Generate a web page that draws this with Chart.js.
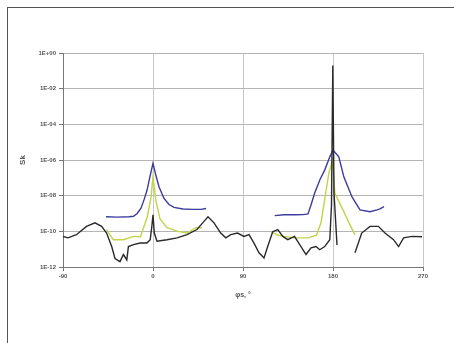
<!DOCTYPE html>
<html>
<head>
<meta charset="utf-8">
<script src="https://cdn.jsdelivr.net/npm/chart.js@4"></script>
<style>
  html, body { margin: 0; padding: 0; background: #fff; }
  #wrap { position: relative; width: 454px; height: 343px; overflow: hidden; }
  #frame { position: absolute; left: 7px; top: 7px; width: 460px; height: 360px; border-left: 1px solid #555; border-top: 1px solid #555; }
  canvas { position: absolute; left: 0; top: 0; }
</style>
</head>
<body>
<div id="wrap">
  <div id="frame"></div>
  <canvas id="chart" width="454" height="343"></canvas>
</div>
<script>
// angle ticks and decade ticks
const xTicks = [-90, 0, 90, 180, 270];
const yTicks = [1, 1e-2, 1e-4, 1e-6, 1e-8, 1e-10, 1e-12];
const yTickLabels = ['1E+00', '1E-02', '1E-04', '1E-06', '1E-08', '1E-10', '1E-12'];

// black series (null = break in the line)
const blackAngle = [-90, -85, -76.6, -66.5, -58, -51.4, -46.4, -41.3, -38, -33, -29.6, -26.2, -24.6, -19.5, -12.8, -6.1, -2.8, -1.1, 0, 1.3, 4, 14, 24, 34, 44, 51, 55, 61, 67.7, 72.8, 77.8, 84.5, 91, 96, 101, 106, 111, 114.7, 119.7, 124.8, 129.8, 134.8, 141.5, 148, 153, 158, 163, 166.7, 171.7, 176.8, 178.5, 179.8, 181, 184, 193, 202, 208.7, 217, 225.4, 232, 240.5, 245.6, 250.6, 259, 269];
const blackValue = [5.2e-11, 4.3e-11, 6.5e-11, 1.9e-10, 3e-10, 1.9e-10, 8e-11, 1.4e-11, 3e-12, 2e-12, 5e-12, 2.5e-12, 1.4e-11, 1.8e-11, 2.2e-11, 2.2e-11, 3.4e-11, 2e-10, 8.5e-10, 8e-11, 2.8e-11, 3.4e-11, 4.3e-11, 6.5e-11, 1.26e-10, 3.6e-10, 6.6e-10, 3e-10, 8e-11, 4.3e-11, 6.5e-11, 8e-11, 5.2e-11, 6.5e-11, 2.2e-11, 6.3e-12, 3.2e-12, 1.4e-11, 9.5e-11, 1.26e-10, 5.2e-11, 3.4e-11, 5.2e-11, 1.4e-11, 5e-12, 1.2e-11, 1.4e-11, 9.3e-12, 1.4e-11, 3.4e-11, 3e-9, 0.2, 1.4e-8, 1.7e-11, null, 6.3e-12, 8e-11, 1.9e-10, 1.9e-10, 8e-11, 3.4e-11, 1.4e-11, 4.3e-11, 5.2e-11, 5e-11];

// blue series
const blueAngle = [-47, -36, -24, -19.5, -15.8, -12, -9, -6, -3, 0, 3, 6, 11, 16, 21, 30, 40, 48, 53, 90, 121.7, 131, 143, 150, 155, 158, 161.7, 167, 171.8, 176.8, 180, 185.8, 190.9, 199, 207, 217, 224, 227, 231];
const blueValue = [6.6e-10, 6.3e-10, 6.6e-10, 7e-10, 1e-9, 2e-9, 5.8e-9, 2e-8, 1.2e-7, 6.5e-7, 1.3e-7, 3.2e-8, 7e-9, 3.2e-9, 2.2e-9, 1.8e-9, 1.7e-9, 1.7e-9, 1.9e-9, null, 7.6e-10, 8.5e-10, 8.5e-10, 8.7e-10, 9.5e-10, 3e-9, 1.4e-8, 8e-8, 2.8e-7, 1.5e-6, 3.6e-6, 1.5e-6, 1.1e-7, 8.5e-9, 1.6e-9, 1.26e-9, 1.6e-9, 1.8e-9, 2.4e-9];

// yellow-green series
const greenAngle = [-46.4, -39.7, -29.6, -19.5, -12.5, -5.7, -2, 0, 3, 7, 14, 25, 34, 43, 49, 90, 118.4, 125, 131.5, 141.5, 155, 163.4, 168, 172, 176, 179.5, 181.8, 190, 196, 202];
const greenValue = [1.26e-10, 3.4e-11, 3.4e-11, 5.2e-11, 5e-11, 6.6e-10, 8e-9, 1.15e-7, 5e-9, 5e-10, 1.6e-10, 1e-10, 8e-11, 1.6e-10, 1.6e-10, null, 9.5e-11, 6e-11, 5.2e-11, 4.3e-11, 4.3e-11, 6e-11, 3e-10, 8e-9, 2e-7, 1e-6, 1.4e-8, 1.6e-9, 3e-10, 6.3e-11];

function points(xs, ys) {
  return xs.map((x, i) => ({ x: x, y: ys[i] }));
}

const tickFont = { family: 'Arial, "Liberation Sans", sans-serif', size: 6, weight: 'bold' };

new Chart(document.getElementById('chart').getContext('2d'), {
  type: 'line',
  data: {
    datasets: [
      { data: points(blackAngle, blackValue), borderColor: '#2a2a2a', borderWidth: 1.4 },
      { data: points(greenAngle, greenValue), borderColor: '#c3d34a', borderWidth: 1.4 },
      { data: points(blueAngle, blueValue), borderColor: '#3c3c9c', borderWidth: 1.4 }
    ]
  },
  options: {
    responsive: false,
    animation: false,
    spanGaps: false,
    elements: { point: { radius: 0 }, line: { tension: 0 } },
    layout: { padding: { left: 14, top: 53, right: 31, bottom: 40 } },
    plugins: { legend: { display: false }, tooltip: { enabled: false } },
    scales: {
      x: {
        type: 'linear',
        min: -90,
        max: 270,
        afterFit: s => { s.height = 36; },
        afterBuildTicks: s => { s.ticks = xTicks.map(v => ({ value: v })); },
        grid: { color: '#c8c8c8', lineWidth: 1, tickLength: 4, tickColor: '#777' },
        border: { color: '#777', width: 1 },
        ticks: { color: '#555', font: tickFont, padding: 2, maxRotation: 0 },
        title: { display: true, text: 'φs, °', color: '#555', font: { family: 'Arial, sans-serif', size: 7, weight: 'bold' }, padding: 4 }
      },
      y: {
        type: 'logarithmic',
        min: 1e-12,
        max: 1,
        afterFit: s => { s.width = 49; },
        afterBuildTicks: s => { s.ticks = yTicks.map(v => ({ value: v })); },
        grid: { color: '#b4b4b4', lineWidth: 1, tickLength: 4, tickColor: '#777' },
        border: { color: '#777', width: 1 },
        ticks: {
          color: '#555', font: tickFont, padding: 3,
          callback: (v) => { const i = yTicks.indexOf(v); return i >= 0 ? yTickLabels[i] : ''; }
        },
        title: { display: true, text: 'Sk', color: '#555', font: { family: 'Arial, sans-serif', size: 8, weight: 'bold' }, padding: 4 }
      }
    }
  }
});
</script>
</body>
</html>
